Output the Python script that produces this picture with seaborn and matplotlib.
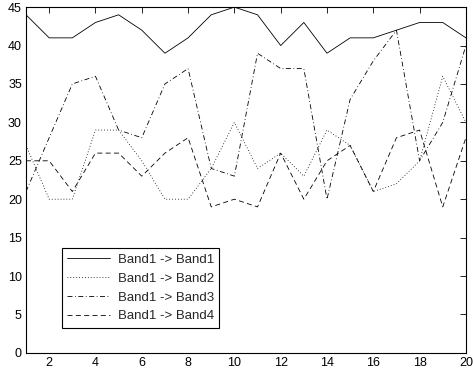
import matplotlib

matplotlib.use("Agg")
import matplotlib.pyplot as plt
import pandas as pd
import seaborn as sns

steps = list(range(1, 21))
band1 = [44, 41, 41, 43, 44, 42, 39, 41, 44, 45, 44, 40, 43, 39, 41, 41, 42, 43, 43, 41]
band2 = [27, 20, 20, 29, 29, 25, 20, 20, 24, 30, 24, 26, 23, 29, 27, 21, 22, 25, 36, 30]
band3 = [21, 28, 35, 36, 29, 28, 35, 37, 24, 23, 39, 37, 37, 20, 33, 38, 42, 25, 30, 40]
band4 = [25, 25, 21, 26, 26, 23, 26, 28, 19, 20, 19, 26, 20, 25, 27, 21, 28, 29, 19, 28]
labels = ["Band1 -> Band1", "Band1 -> Band2", "Band1 -> Band3", "Band1 -> Band4"]

rows = []
for name, vals in zip(labels, [band1, band2, band3, band4]):
    for x, y in zip(steps, vals):
        rows.append({"x": x, "y": y, "series": name})
df = pd.DataFrame(rows)

sns.set_style("white")
plt.rcParams["font.family"] = ["Liberation Sans", "DejaVu Sans"]

fig = plt.figure(figsize=(4.73, 3.75), dpi=100)
ax = fig.add_axes([0.055, 0.059, 0.930, 0.922])

sns.lineplot(
    data=df, x="x", y="y", hue="series", style="series",
    palette=["black"] * 4,
    dashes=["", (1, 2.5), (6, 3, 1, 3), (6, 4)],
    linewidth=0.6, ax=ax,
)

ax.set_xlim(1, 20)
ax.set_ylim(0, 45)
ax.set_xticks(range(2, 21, 2))
ax.set_yticks(range(0, 46, 5))
ax.set_xlabel("")
ax.set_ylabel("")
ax.tick_params(direction="in", length=4, width=0.6, labelsize=9,
               top=True, right=True, colors="black", pad=3)
for s in ax.spines.values():
    s.set_color("black")
    s.set_linewidth(0.8)

leg = ax.legend(loc="lower left", bbox_to_anchor=(0.082, 0.073), fontsize=9.5,
                frameon=True, fancybox=False, edgecolor="black", framealpha=1,
                handlelength=3.2, handletextpad=0.6, borderpad=0.4,
                labelspacing=0.5, borderaxespad=0)
leg.get_frame().set_linewidth(0.8)

fig.savefig("out.png", dpi=100)
